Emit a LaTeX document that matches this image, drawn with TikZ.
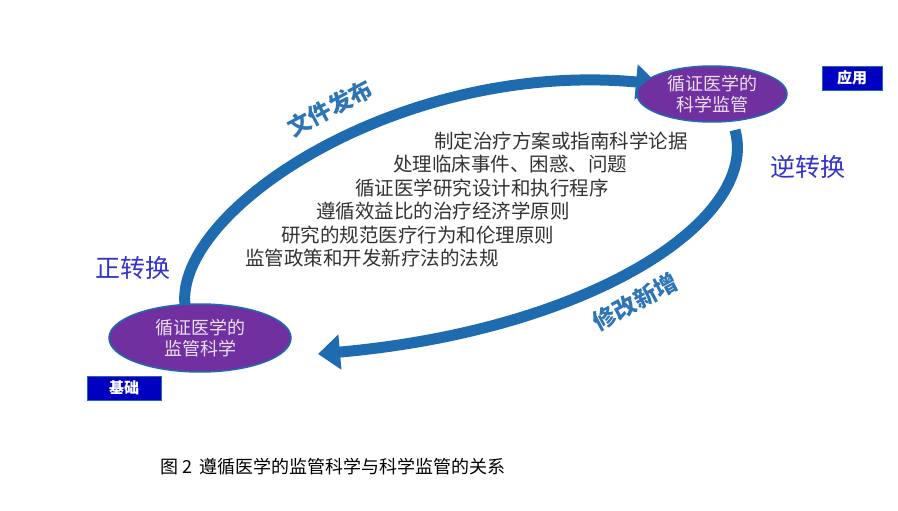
\documentclass[tikz,border=0pt]{standalone}
\usepackage{fontspec}
\setmainfont{Noto Sans CJK SC}
\usetikzlibrary{shapes.geometric,arrows.meta}
\definecolor{arr}{HTML}{1F6BB0}
\definecolor{purp}{HTML}{7030A0}
\definecolor{lbl}{HTML}{0000C0}
\definecolor{ttl}{HTML}{2E75B6}
\definecolor{conv}{HTML}{3333CC}
\begin{document}
\begin{tikzpicture}[x=1pt,y=-1pt,
  ell/.style={ellipse,draw=arr,line width=1.5pt,fill=purp,text=white!85!purp,font=\fontsize{18}{21}\selectfont,align=center,inner sep=0pt},
  tag/.style={draw=arr,fill=lbl,text=white,font=\bfseries\fontsize{15}{17}\selectfont,minimum height=24pt,inner sep=2pt},
  body/.style={anchor=west,font=\fontsize{19.5}{21}\selectfont,text=black!80,inner sep=0pt},
  bigarr/.style={arr,line width=11pt,-{Triangle[length=22pt,width=34pt]}}]
\useasboundingbox (0,0) rectangle (898,511);
\fill[white] (0,0) rectangle (898,511);
\coordinate (s1) at (185,305);
\coordinate (e1) at (658,84);
\coordinate (s2) at (735,130);
\coordinate (e2) at (318,354);
\draw[bigarr] (s1) .. controls (175,210) and (400,60) .. (e1);
\draw[bigarr] (s2) .. controls (760,220) and (590,330) .. (e2);
\node[ell,minimum width=182pt,minimum height=68pt] (A) at (200,338) {循证医学的\\监管科学};
\node[ell,minimum width=150pt,minimum height=56pt] (B) at (712,94) {循证医学的\\科学监管};
\node[tag,minimum width=74pt] (ta) at (124,388) {基础};
\node[tag,minimum width=60pt] (tb) at (852,78) {应用};
\node[font=\bfseries\fontsize{23}{25}\selectfont,text=ttl,rotate=28] (t1) at (330,108) {文件发布};
\node[font=\bfseries\fontsize{23}{25}\selectfont,text=ttl,rotate=28] (t2) at (635,302) {修改新增};
\node[font=\fontsize{25}{27}\selectfont,text=conv] (c1) at (133,268) {正转换};
\node[font=\fontsize{25}{27}\selectfont,text=conv] (c2) at (808,167) {逆转换};
\node[body] (l1) at (434,141) {制定治疗方案或指南科学论据};
\node[body] (l2) at (393,164) {处理临床事件、困惑、问题};
\node[body] (l3) at (355,188) {循证医学研究设计和执行程序};
\node[body] (l4) at (316,211) {遵循效益比的治疗经济学原则};
\node[body] (l5) at (281,235) {研究的规范医疗行为和伦理原则};
\node[body] (l6) at (245,258) {监管政策和开发新疗法的法规};
\node[font=\fontsize{18}{20}\selectfont,anchor=west,inner sep=0pt] (cap) at (160,467) {图 2\, 遵循医学的监管科学与科学监管的关系};
\end{tikzpicture}
\end{document}
